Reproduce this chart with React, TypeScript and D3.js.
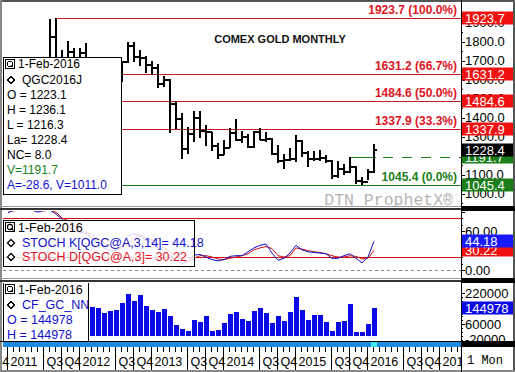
import React from 'react';
import * as d3 from 'd3';

// ---------- DATA ----------
// month index 0 = Jan 2011 ... 61 = Feb 2016
const opens = [1421,1333,1410,1439,1556,1536,1500,1628,1825,1620,1715,1746,1566,1737,1711,1669,1664,1560,1604,1615,1692,1776,1719,1713,1675,1663,1578,1596,1472,1393,1234,1313,1396,1327,1323,1250,1202,1240,1321,1284,1296,1246,1322,1282,1287,1210,1171,1175,1184,1279,1212,1183,1184,1190,1172,1094,1132,1115,1142,1065,1060,1116];
const highs = [1424,1413,1448,1575,1577,1556,1632,1917.9,1923.7,1755,1804,1764,1764,1792,1720,1678,1670,1640,1630,1697,1797,1798,1755,1726,1697,1682,1617,1605,1488,1424,1348,1434,1434,1362,1324,1267,1280,1345,1392,1331,1315,1332,1346,1325,1293,1255,1208,1239,1307,1283,1224,1224,1232,1205,1175,1170,1157,1191.7,1145,1088,1130,1263];
const lows = [1308,1323,1381,1417,1462,1478,1478,1604,1532,1556,1669,1523,1563,1688,1627,1613,1527,1537,1556,1588,1687,1692,1673,1635,1626,1554,1562,1321,1338,1180,1208,1273,1293,1251,1226,1182,1202,1238,1277,1268,1240,1240,1281,1272,1204,1161,1131,1170,1167,1191,1142,1170,1170,1162,1077,1080,1098,1111,1052,1045.4,1071,1111];
const closes = [1333,1409,1439,1556,1536,1500,1628,1825,1620,1715,1746,1566,1737,1711,1669,1664,1560,1604,1615,1692,1776,1719,1713,1675,1663,1578,1596,1472,1393,1234,1313,1396,1327,1323,1250,1202,1240,1321,1284,1296,1246,1322,1282,1287,1210,1171,1175,1184,1279,1212,1183,1184,1190,1172,1094,1132,1115,1142,1065,1060,1116,1228.4];

const stochK = [88,92,92,93,92,89,92,92,86,78,70,60,58,56,50,44,34,30,30,38,52,56,52,46,42,34,30,22,15,10,14,23,24,20,16,14,16,21,22,22,28,34,38,40,26,15,18,26,38,31,28,27,26,25,18,18,22,25,18,11,20,44.18];
const stochD = [91,91,92,92,92,91,91,92,89,80,76,68,62,58,54,48,42,36,32,34,42,50,54,50,46,40,34,28,22,16,13,18,22,22,20,17,16,18,20,22,25,31,34,36,33,22,20,22,34,32,30,28,27,25,22,20,20,22,21,17,18,30.22];

// open-interest style bars, starting at month index 14 (Mar 2012)
const volStart = 14;
const volValues = [149300,141000,118300,127100,132300,169900,214800,180300,209700,152900,132300,123500,135900,101300,54800,32700,23900,80600,71900,101300,25400,29000,66700,111600,121900,84300,77000,128600,141000,118300,66700,101300,77000,121900,200900,132300,80600,106500,106500,71900,25400,71900,75500,163200,17200,20300,60000,144978];

const fibLevels = [1923.7, 1631.2, 1484.6, 1337.9];
const fibPcts = ['100.0%', '66.7%', '50.0%', '33.3%'];
const fibLow = 1045.4;
const vLevel = 1191.7;
const lastPrice = 1228.4;
const priceTicks = [1000, 1100, 1200, 1300, 1400, 1500, 1600, 1700, 1800, 1900];
const stochLabels = [0, 60];
const volTicks = [-20000, 60000, 140000, 220000];

const priceInfo = ['O = 1223.1', 'H = 1236.1', 'L = 1216.3', 'La= 1228.4', 'NC= 8.0'];

// ---------- LAYOUT ----------
const W = 515, H = 372;
const PL = 3, PR = 461;
const x = d3.scaleLinear().domain([0, 61]).range([8, 374]);
const yP = d3.scaleLinear().domain([fibLow, 1923.7]).range([185, 18]);
const yS = d3.scaleLinear().domain([0, 100]).range([270, 205]);
const yV = d3.scaleLinear().domain([-20000, 220000]).range([339.5, 293]);

const RED = '#c41e24';
const REDTXT = '#e0141e';
const REDBOX = '#f01010';
const GREEN = '#1a7f1a';
const BLUE = '#1010cc';
const FONT = '"Liberation Sans", Arial, sans-serif';
const MONO = '"Liberation Mono", "Courier New", monospace';

function QIcon({ x0, y0 }: { x0: number; y0: number }) {
  return (
    <g>
      <rect x={x0 + 0.5} y={y0 + 0.5} width={9} height={9} fill="#fff" stroke="#000" />
      <circle cx={x0 + 5} cy={y0 + 5} r={2.6} fill="none" stroke="#000" strokeWidth={1.1} />
      <line x1={x0 + 6} y1={y0 + 6} x2={x0 + 8.5} y2={y0 + 8.5} stroke="#000" strokeWidth={1.1} />
    </g>
  );
}

function Diamond({ cx, cy }: { cx: number; cy: number }) {
  return <path d={`M${cx},${cy - 3.5}L${cx + 3.5},${cy}L${cx},${cy + 3.5}L${cx - 3.5},${cy}Z`} fill="#fff" stroke="#000" strokeWidth={1.3} />;
}

export default function App() {
  const kLine = d3.line<number>().x((_, i) => x(i)).y((d) => yS(d));
  const monthsIdx = d3.range(-3, 76);
  const timeLabel = (i: number) => {
    const m = ((i % 12) + 12) % 12;
    const yr = 2011 + Math.floor(i / 12);
    if (m === 0) return String(yr);
    if (m === 6) return 'Q3';
    if (m === 9) return 'Q4';
    return null;
  };

  return (
    <svg width={W} height={H} style={{ position: 'fixed', left: 0, top: 0, display: 'block', background: '#fff' }} fontFamily={FONT}>
      <defs>
        <clipPath id="cpPrice"><rect x={PL} y={3} width={PR - PL} height={203} /></clipPath>
        <clipPath id="cpStoch"><rect x={PL} y={211} width={PR - PL} height={67} /></clipPath>
        <clipPath id="cpVol"><rect x={PL} y={283} width={PR - PL} height={59} /></clipPath>
        <clipPath id="cpTime"><rect x={0} y={347} width={PR} height={25} /></clipPath>
        <clipPath id="cpAxP"><rect x={PR} y={3} width={54} height={203} /></clipPath>
        <clipPath id="cpAxS"><rect x={PR} y={211} width={54} height={67} /></clipPath>
        <clipPath id="cpAxV"><rect x={PR} y={283} width={54} height={59} /></clipPath>
      </defs>
      <rect x={0} y={0} width={W} height={H} fill="#fff" />

      {/* ===== PRICE PANEL ===== */}
      <g clipPath="url(#cpPrice)" shapeRendering="crispEdges">
        <text x={453} y={205} fontFamily={MONO} fontSize={16.5} fill="#b4b4b4" textAnchor="end">DTN ProphetX®</text>
        {fibLevels.map((v) => (
          <line key={v} x1={x(8)} x2={PR} y1={Math.round(yP(v)) + 0.5} y2={Math.round(yP(v)) + 0.5} stroke={RED} strokeWidth={1} />
        ))}
        <line x1={x(8)} x2={PR} y1={Math.round(yP(fibLow)) + 0.5} y2={Math.round(yP(fibLow)) + 0.5} stroke={GREEN} strokeWidth={1} />
        <line x1={x(57)} x2={x(61) + 2} y1={Math.round(yP(vLevel)) + 0.5} y2={Math.round(yP(vLevel)) + 0.5} stroke={GREEN} strokeWidth={1} />
        <line x1={x(61) + 9} x2={PR} y1={Math.round(yP(vLevel)) + 0.5} y2={Math.round(yP(vLevel)) + 0.5} stroke={GREEN} strokeWidth={1} strokeDasharray="10,9" />
        {opens.map((o, i) => {
          const cx = Math.round(x(i));
          return (
            <g key={i} stroke="#000" strokeWidth={2}>
              <line x1={cx} x2={cx} y1={yP(highs[i])} y2={yP(lows[i])} />
              <line x1={cx - 3} x2={cx} y1={Math.round(yP(o))} y2={Math.round(yP(o))} />
              <line x1={cx} x2={cx + 3} y1={Math.round(yP(closes[i]))} y2={Math.round(yP(closes[i]))} />
            </g>
          );
        })}
        <text x={280} y={43} fontSize={11} fontWeight="bold" textAnchor="middle" fill="#111">COMEX GOLD MONTHLY</text>
        {fibLevels.map((v, k) => (
          <text key={v} x={457} y={yP(v) - 4} fontSize={12} fontWeight="bold" textAnchor="end" fill={REDTXT}>{`${v.toFixed(1)} (${fibPcts[k]})`}</text>
        ))}
        <text x={457} y={yP(fibLow) - 4} fontSize={12} fontWeight="bold" textAnchor="end" fill={GREEN}>{`${fibLow.toFixed(1)} (0.0%)`}</text>

        {/* info box */}
        <rect x={3.5} y={57.5} width={118} height={137} fill="#fff" stroke="#000" />
        <QIcon x0={5} y0={59} />
        <text x={18} y={68} fontSize={12} fill="#000">1-Feb-2016</text>
        <Diamond cx={11} cy={80} />
        <text x={22} y={84} fontSize={12} fill="#000">QGC2016J</text>
        {priceInfo.map((t, k) => (
          <text key={t} x={7} y={99 + k * 15} fontSize={12} fill="#000">{t}</text>
        ))}
        <text x={7} y={174} fontSize={12} fill={GREEN}>V=1191.7</text>
        <text x={7} y={189} fontSize={12} fill={BLUE}>A=-28.6, V=1011.0</text>
      </g>

      {/* price axis */}
      <g clipPath="url(#cpAxP)">
        {d3.range(950, 1950, 50).map((v) => (
          <line key={v} x1={PR} x2={PR + (v % 100 === 0 ? 4 : 2)} y1={Math.round(yP(v)) + 0.5} y2={Math.round(yP(v)) + 0.5} stroke="#000" shapeRendering="crispEdges" />
        ))}
        {priceTicks.map((v) => (
          <text key={v} x={465} y={yP(v) + 4.5} fontSize={13} fill="#000">{v.toFixed(1)}</text>
        ))}
        {[...fibLevels].map((v) => (
          <g key={v}>
            <rect x={462} y={Math.round(yP(v)) - 6.5} width={51} height={13} fill={REDBOX} />
            <text x={465} y={yP(v) + 5} fontSize={13} fill="#fff">{v.toFixed(1)}</text>
          </g>
        ))}
        <rect x={462} y={Math.round(yP(vLevel)) - 6.5} width={51} height={13} fill={GREEN} />
        <text x={465} y={yP(vLevel) + 5} fontSize={13} fill="#fff">{vLevel.toFixed(1)}</text>
        <rect x={462} y={Math.round(yP(lastPrice)) - 6.5} width={51} height={13} fill="#000" />
        <text x={465} y={yP(lastPrice) + 5} fontSize={13} fill="#fff">{lastPrice.toFixed(1)}</text>
        <rect x={462} y={Math.round(yP(fibLow)) - 6.5} width={51} height={13} fill={GREEN} />
        <text x={465} y={yP(fibLow) + 5} fontSize={13} fill="#fff">{fibLow.toFixed(1)}</text>
      </g>

      {/* ===== STOCH PANEL ===== */}
      <g clipPath="url(#cpStoch)">
        <line x1={PL} x2={PR} y1={Math.round(yS(80)) + 0.5} y2={Math.round(yS(80)) + 0.5} stroke="#d01010" shapeRendering="crispEdges" />
        <line x1={PL} x2={PR} y1={Math.round(yS(20)) + 0.5} y2={Math.round(yS(20)) + 0.5} stroke="#d01010" shapeRendering="crispEdges" />
        <line x1={PL} x2={PR} y1={Math.round(yS(0)) + 0.5} y2={Math.round(yS(0)) + 0.5} stroke="#888" strokeDasharray="3,3" shapeRendering="crispEdges" />
        <path d={kLine(stochD) || ''} fill="none" stroke="#d01010" strokeWidth={1} />
        <path d={kLine(stochK) || ''} fill="none" stroke={BLUE} strokeWidth={1} />
        <rect x={3.5} y={220.5} width={191} height={46} fill="#fff" fillOpacity={0.82} stroke="#000" />
        <QIcon x0={5} y0={222} />
        <text x={18} y={232} fontSize={12.5} fill="#000">1-Feb-2016</text>
        <Diamond cx={11} cy={243} />
        <text x={22} y={247} fontSize={12.5} fill={BLUE}>STOCH K[QGC@A,3,14]= 44.18</text>
        <Diamond cx={11} cy={257} />
        <text x={22} y={261} fontSize={12.5} fill={REDTXT}>STOCH D[QGC@A,3]= 30.22</text>
      </g>
      <g clipPath="url(#cpAxS)">
        {d3.range(0, 100, 10).map((v) => (
          <line key={v} x1={PR} x2={PR + (v % 30 === 0 ? 4 : 2)} y1={Math.round(yS(v)) + 0.5} y2={Math.round(yS(v)) + 0.5} stroke="#000" shapeRendering="crispEdges" />
        ))}
        {stochLabels.map((v) => (
          <text key={v} x={465} y={yS(v) + 4.5} fontSize={13} fill="#000">{v.toFixed(2)}</text>
        ))}
        <rect x={462} y={Math.round(yS(30.22)) - 6.5} width={51} height={13} fill={REDBOX} />
        <text x={465} y={yS(30.22) + 5} fontSize={13} fill="#fff">30.22</text>
        <rect x={462} y={Math.round(yS(44.18)) - 6.5} width={51} height={13} fill="#1a1aff" />
        <text x={465} y={yS(44.18) + 5} fontSize={13} fill="#fff">44.18</text>
      </g>

      {/* ===== VOLUME PANEL ===== */}
      <g clipPath="url(#cpVol)" shapeRendering="crispEdges">
        {volValues.map((v, k) => {
          const cx = x(volStart + k);
          return <rect key={k} x={Math.round(cx) - 2} y={yV(v)} width={5} height={yV(0) - yV(v)} fill="#0a0ae6" />;
        })}
        <rect x={3.5} y={282.5} width={85} height={60} fill="#fff" stroke="#000" />
        <QIcon x0={5} y0={284} />
        <text x={18} y={294} fontSize={12.5} fill="#000">1-Feb-2016</text>
        <Diamond cx={11} cy={305} />
        <text x={22} y={309} fontSize={12.5} fill={BLUE}>CF_GC_NN</text>
        <text x={7} y={324} fontSize={12.5} fill={BLUE}>O = 144978</text>
        <text x={7} y={339} fontSize={12.5} fill={BLUE}>H = 144978</text>
      </g>
      <g clipPath="url(#cpAxV)">
        {d3.range(-20000, 240000, 20000).map((v) => (
          <line key={v} x1={PR} x2={PR + (v % 80000 === 60000 % 80000 ? 4 : 2)} y1={Math.round(yV(v)) + 0.5} y2={Math.round(yV(v)) + 0.5} stroke="#000" shapeRendering="crispEdges" />
        ))}
        {volTicks.map((v) => (
          <text key={v} x={465} y={yV(v) + 4.5} fontSize={13} fill="#000">{v < 0 ? `-${Math.abs(v)}` : String(v)}</text>
        ))}
        <rect x={462} y={Math.round(yV(144978)) - 6.5} width={51} height={13} fill="#0a0ae6" />
        <text x={465} y={yV(144978) + 5} fontSize={13} fill="#fff">144978</text>
      </g>

      {/* ===== TIME AXIS ===== */}
      <rect x={PL} y={342} width={PR - PL} height={5} fill="#1e8be0" />
      <rect x={Math.round(x(61)) - 3} y={342} width={6} height={5} fill="#40e8f0" />
      <g clipPath="url(#cpTime)" shapeRendering="crispEdges">
        {monthsIdx.map((i) => {
          const cx = Math.round(x(i)) - 0.5;
          const lab = timeLabel(i);
          return (
            <g key={i}>
              <line x1={cx} x2={cx} y1={347} y2={lab ? 370 : 352} stroke="#000" />
              {lab && <text x={cx + 3} y={366} fontSize={12.5} fill="#000">{lab}</text>}
            </g>
          );
        })}
      </g>

      {/* ===== FRAMES ===== */}
      <g shapeRendering="crispEdges">
        <rect x={0} y={0} width={W} height={2} fill="#555" />
        <rect x={0} y={0} width={2} height={H} fill="#888" />
        <rect x={W - 2} y={0} width={2} height={H} fill="#555" />
        <rect x={0} y={H - 2} width={W} height={2} fill="#888" />
        <line x1={PR + 0.5} x2={PR + 0.5} y1={0} y2={H} stroke="#000" />
        <rect x={0} y={206} width={PR} height={1} fill="#999" />
        <rect x={0} y={208} width={PR} height={2} fill="#333" />
        <rect x={PR} y={206} width={W - PR} height={5} fill="#000" />
        <rect x={0} y={278} width={PR} height={1} fill="#999" />
        <rect x={0} y={280} width={PR} height={2} fill="#333" />
        <rect x={PR} y={278} width={W - PR} height={5} fill="#000" />
        <rect x={PR} y={342} width={W - PR} height={5} fill="#000" />
        <line x1={0} x2={W} y1={341.5} y2={341.5} stroke="#000" />
      </g>
      <text x={467} y={364} fontFamily={MONO} fontSize={12} fill="#000">1 Mon</text>
    </svg>
  );
}
